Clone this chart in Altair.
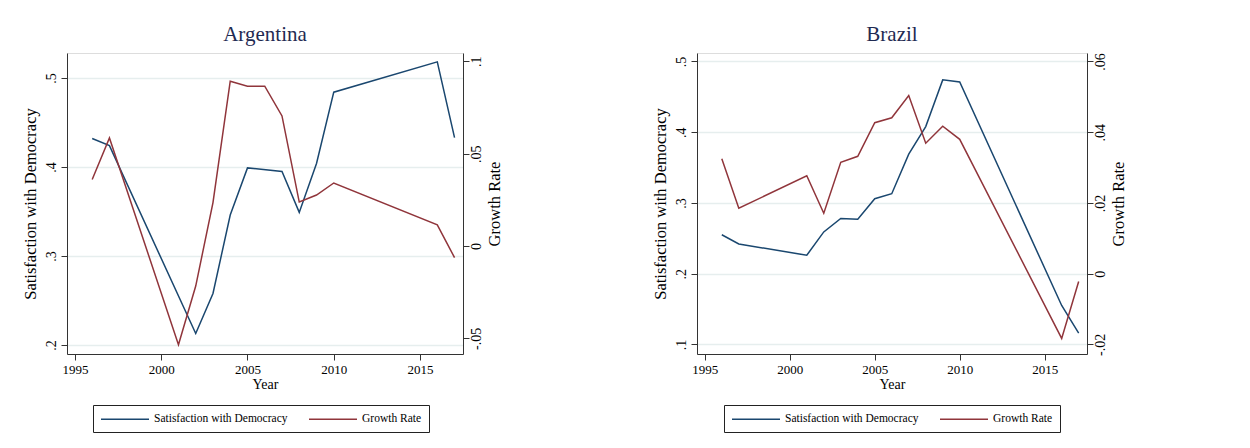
import altair as alt
import pandas as pd

FONT = "Liberation Serif"
BLUE = "#1a476f"
RED = "#90353b"
SERIES = ["Satisfaction with Democracy", "Growth Rate"]

# Argentina
arg_sat_years = [1996, 1997, 2002, 2003, 2004, 2005, 2007, 2008, 2009, 2010, 2016, 2017]
arg_sat = [0.432, 0.424, 0.213, 0.258, 0.346, 0.399, 0.395, 0.349, 0.404, 0.484, 0.518, 0.433]
arg_gr_years = [1996, 1997, 2001, 2002, 2003, 2004, 2005, 2006, 2007, 2008, 2009, 2010, 2016, 2017]
arg_gr = [0.036, 0.0585, -0.0535, -0.0217, 0.0235, 0.0892, 0.0865, 0.0865, 0.0704, 0.0238,
          0.0276, 0.0341, 0.0114, -0.0063]

# Brazil
bra_years = [1996, 1997, 2001, 2002, 2003, 2004, 2005, 2006, 2007, 2008, 2009, 2010, 2016, 2017]
bra_sat = [0.255, 0.242, 0.226, 0.259, 0.278, 0.277, 0.306, 0.313, 0.369, 0.408, 0.474, 0.471,
           0.155, 0.116]
bra_gr = [0.0325, 0.0185, 0.0277, 0.0171, 0.0315, 0.0332, 0.0427, 0.0441, 0.0504, 0.0369,
          0.0417, 0.038, -0.0183, -0.0022]

x_ticks = [1995, 2000, 2005, 2010, 2015]
arg_left_ticks = [0.2, 0.3, 0.4, 0.5]
arg_right_ticks = [-0.05, 0, 0.05, 0.1]
bra_left_ticks = [0.1, 0.2, 0.3, 0.4, 0.5]
bra_right_ticks = [-0.02, 0, 0.02, 0.04, 0.06]

LEFT_EXPR = "replace(format(datum.value, '.1f'), regexp('^0[.]'), '.')"
RIGHT_EXPR = ("replace(replace(format(datum.value, '.2~f'), regexp('^0[.]'), '.'), "
              "regexp('^.0[.]'), '-.')")


def panel(title, sat_years, sat_vals, gr_years, gr_vals, ldom, lticks, rdom, rticks, width,
          legend_x):
    sat_df = pd.DataFrame({"year": sat_years, "value": sat_vals, "series": SERIES[0]})
    gr_df = pd.DataFrame({"year": gr_years, "value": gr_vals, "series": SERIES[1]})
    x = alt.X("year:Q",
              scale=alt.Scale(domain=[1994.54, 2017.49], nice=False, zero=False),
              axis=alt.Axis(values=x_ticks, format="d", title="Year", grid=False,
                            labelFont=FONT, labelFontSize=13, labelColor="black",
                            titleFont=FONT, titleFontSize=14, titleFontWeight="normal",
                            titleColor="black", titlePadding=1, tickSize=6,
                            labelPadding=3, domainColor="#333", tickColor="#333"))
    color = alt.Color("series:N",
                      scale=alt.Scale(domain=SERIES, range=[BLUE, RED]),
                      sort=SERIES,
                      legend=alt.Legend(orient="none", legendX=legend_x, legendY=352,
                                        direction="horizontal", title=None,
                                        symbolType="M-1,0H7", symbolSize=144,
                                        symbolStrokeWidth=1.5, labelFont=FONT,
                                        labelFontSize=11.5, labelColor="black",
                                        labelOffset=40, columnPadding=18, padding=7,
                                        strokeColor="#222", labelLimit=400))
    sat = alt.Chart(sat_df).mark_line(strokeWidth=1.5).encode(
        x=x,
        y=alt.Y("value:Q",
                scale=alt.Scale(domain=ldom, nice=False, zero=False),
                axis=alt.Axis(orient="left", values=lticks, labelExpr=LEFT_EXPR,
                              title="Satisfaction with Democracy", grid=True,
                              gridColor="#e6eeee", gridWidth=1.5,
                              labelAngle=270, labelAlign="center", labelBaseline="bottom",
                              labelFont=FONT, labelFontSize=14, labelColor="black",
                              titleFont=FONT, titleFontSize=16.5, titleFontWeight="normal",
                              titleColor="black", titlePadding=6, tickSize=6,
                              labelPadding=3, domainColor="#333", tickColor="#333")),
        color=color,
    )
    gr = alt.Chart(gr_df).mark_line(strokeWidth=1.5).encode(
        x=x,
        y=alt.Y("value:Q",
                scale=alt.Scale(domain=rdom, nice=False, zero=False),
                axis=alt.Axis(orient="right", values=rticks, labelExpr=RIGHT_EXPR,
                              title="Growth Rate", grid=False,
                              labelAngle=270, labelAlign="center", labelBaseline="top",
                              titleAngle=270, titleBaseline="top",
                              labelFont=FONT, labelFontSize=14, labelColor="black",
                              titleFont=FONT, titleFontSize=16.5, titleFontWeight="normal",
                              titleColor="black", titlePadding=3, tickSize=6,
                              labelPadding=0, domainColor="#333", tickColor="#333")),
        color=color,
    )
    return alt.layer(sat, gr).resolve_scale(y="independent").properties(
        width=width, height=301,
        title=alt.TitleParams(title, font=FONT, fontSize=21, fontWeight="normal",
                              color="#1f2a52", anchor="middle", offset=8),
    )


arg = panel("Argentina", arg_sat_years, arg_sat, arg_gr_years, arg_gr,
            [0.19, 0.528], arg_left_ticks, [-0.0585, 0.1045], arg_right_ticks, 396, 26)
bra = panel("Brazil", bra_years, bra_sat, bra_years, bra_gr,
            [0.0864, 0.512], bra_left_ticks, [-0.0227, 0.0624], bra_right_ticks, 390, 27)

chart = alt.hconcat(arg, bra, spacing=148).resolve_scale(color="independent").properties(
    padding={"left": 13, "top": 15, "right": 0, "bottom": 0}
).configure_view(stroke=None).configure(background="white")

chart.save("out.html", embed_options={"renderer": "svg", "actions": False})
